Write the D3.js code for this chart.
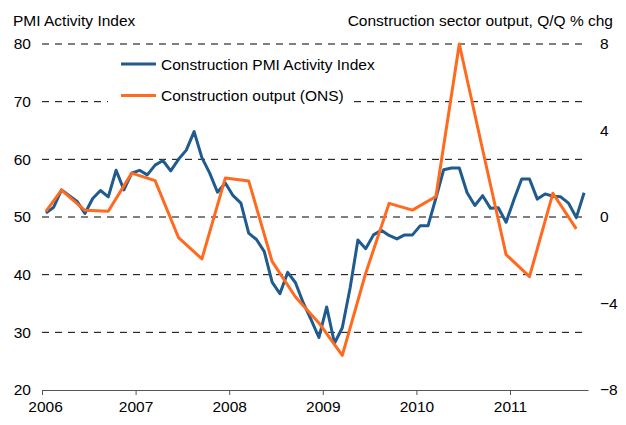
<!DOCTYPE html>
<html>
<head>
<meta charset="utf-8">
<script src="https://cdn.jsdelivr.net/npm/d3@7"></script>
<style>
  body { margin: 0; background: #fff; }
  svg text { font-family: "Liberation Sans", Arial, sans-serif; fill: #000; }
</style>
</head>
<body>
<div id="chart"></div>
<script>
// monthly PMI, Jan 2006 .. Oct 2011
const pmi = [
  50.7, 51.7, 54.7, 53.7, 52.7, 50.6, 53.2, 54.6, 53.5, 58.1, 54.7, 57.6,
  58.1, 57.3, 59.0, 59.8, 58.0, 60.0, 61.6, 64.8, 60.3, 57.6, 54.3, 55.9,
  53.7, 52.4, 47.2, 46.1, 44.0, 38.7, 36.7, 40.4, 38.6, 35.1, 32.2, 29.1,
  34.4, 28.1, 30.8, 37.7, 46.0, 44.5, 46.9, 47.7, 46.8, 46.2, 46.9, 46.9,
  48.5, 48.5, 53.3, 58.2, 58.5, 58.5, 54.2, 52.0, 53.7, 51.5, 51.6, 49.1,
  53.0, 56.6, 56.6, 53.1, 54.0, 53.6, 53.5, 52.4, 49.9, 54.2
];

// ONS quarterly output, placed at month index (months since Jan 2006)
const onsMonth = [0, 2, 5, 8, 11, 14, 17, 20, 23, 26, 29, 32, 35, 38, 41, 44, 47, 50, 53, 56, 59, 62, 65, 68];
const onsValue = [0.26, 1.24, 0.31, 0.27, 2.03, 1.68, -0.95, -1.94, 1.80, 1.67, -2.05, -3.7,
                  -4.9, -6.4, -2.6, 0.63, 0.32, 0.95, 8.0, 3.1, -1.74, -2.76, 1.1, -0.55];

const years = ['2006', '2007', '2008', '2009', '2010', '2011'];
const leftTicks = [20, 30, 40, 50, 60, 70, 80];
const rightTicks = [-8, -4, 0, 4, 8];
const seriesNames = ['Construction PMI Activity Index', 'Construction output (ONS)'];
const colors = ['#1f5b8e', '#ff6a1f'];

const width = 626, height = 425;
const fs = 15.5;
const svg = d3.select('#chart').append('svg')
    .attr('width', width)
    .attr('height', height);

const x = d3.scaleLinear().domain([0, 70]).range([42, 588]);
const yL = d3.scaleLinear().domain([20, 80]).range([390, 44]);
const yR = d3.scaleLinear().domain([-8, 8]).range([390, 44]);

// dashed gridlines
svg.append('g').selectAll('line')
    .data(leftTicks.slice(1))
    .join('line')
    .attr('x1', 42).attr('x2', 588)
    .attr('y1', d => yL(d)).attr('y2', d => yL(d))
    .attr('stroke', '#000')
    .attr('stroke-width', 1)
    .attr('stroke-dasharray', '7,6');

// bottom axis
const xAxis = d3.axisBottom(x)
    .tickValues(years.map((d, i) => i * 12))
    .tickFormat((d, i) => years[i])
    .tickSize(5)
    .tickSizeOuter(0)
    .tickPadding(6);
const gx = svg.append('g')
    .attr('transform', `translate(0,${yL(20)})`)
    .call(xAxis);
gx.select('.domain').attr('stroke', '#555');
gx.selectAll('.tick line').attr('stroke', '#555');
gx.selectAll('text').attr('font-size', fs).attr('fill', '#000')
    .attr('dx', (d, i) => i === 0 ? 3 : 0);

// left axis labels
const gl = svg.append('g')
    .attr('transform', 'translate(42,0)')
    .call(d3.axisLeft(yL).tickValues(leftTicks).tickSize(0).tickPadding(11));
gl.select('.domain').remove();
gl.selectAll('text').attr('font-size', fs).attr('fill', '#000');

// right axis labels
const gr = svg.append('g')
    .attr('transform', 'translate(588,0)')
    .call(d3.axisRight(yR).tickValues(rightTicks).tickSize(0).tickPadding(12));
gr.select('.domain').remove();
gr.selectAll('text').attr('font-size', fs).attr('fill', '#000');

// axis titles
svg.append('text')
    .attr('x', 13).attr('y', 26)
    .attr('font-size', fs)
    .text('PMI Activity Index');
svg.append('text')
    .attr('x', 613).attr('y', 26)
    .attr('text-anchor', 'end')
    .attr('font-size', fs)
    .text('Construction sector output, Q/Q % chg');

// legend box covers the gridline behind it
const legend = svg.append('g');
legend.append('rect')
    .attr('x', 108).attr('y', 52)
    .attr('width', 240).attr('height', 60)
    .attr('fill', '#fff');
const item = legend.selectAll('g.item')
    .data(seriesNames)
    .join('g')
    .classed('item', true)
    .attr('transform', (d, i) => `translate(121,${64 + i * 31.5})`);
item.append('line')
    .attr('x1', 0).attr('x2', 35)
    .attr('stroke', (d, i) => colors[i])
    .attr('stroke-width', 3);
item.append('text')
    .attr('x', 40).attr('y', 5.5)
    .attr('font-size', fs)
    .text(d => d);

// lines
const pmiLine = d3.line()
    .x((d, i) => x(i + 0.5))
    .y(d => yL(d));
svg.append('path')
    .datum(pmi)
    .attr('d', pmiLine)
    .attr('fill', 'none')
    .attr('stroke', colors[0])
    .attr('stroke-width', 3)
    .attr('stroke-linejoin', 'round');

const onsLine = d3.line()
    .x((d, i) => x(onsMonth[i] + 0.5))
    .y(d => yR(d));
svg.append('path')
    .datum(onsValue)
    .attr('d', onsLine)
    .attr('fill', 'none')
    .attr('stroke', colors[1])
    .attr('stroke-width', 3)
    .attr('stroke-linejoin', 'round');
</script>
</body>
</html>
